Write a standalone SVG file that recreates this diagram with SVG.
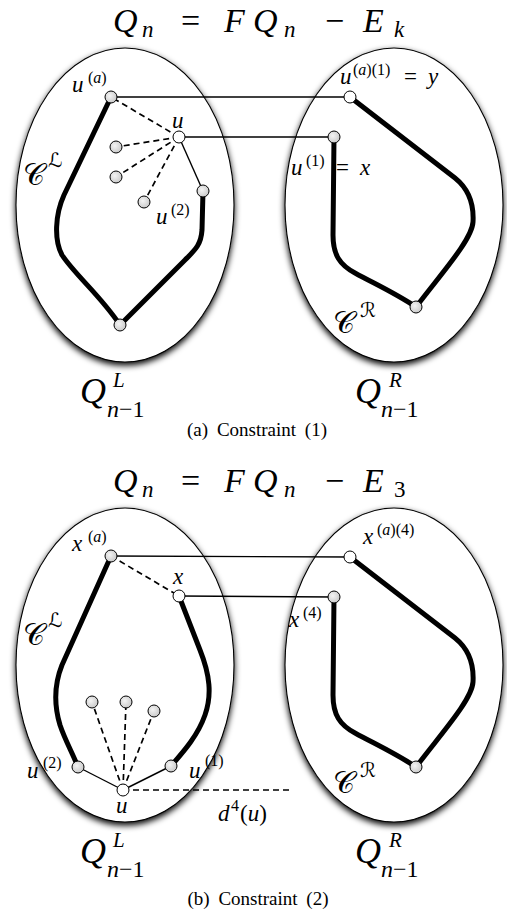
<svg xmlns="http://www.w3.org/2000/svg" width="507" height="914" viewBox="0 0 507 914">
<style>
.f{font-family:"Liberation Serif","DejaVu Serif","Noto Serif","FreeSerif",Tinos,"Times New Roman",serif;fill:#000}
.m{font-style:italic}
.t{font-size:34px}
.ts{font-size:23px}
.l{font-size:23px}
.s{font-size:16px}
.cal{font-family:"DejaVu Serif","DejaVu Sans","Noto Sans",serif;font-style:normal}
.cap{font-size:19px;word-spacing:4px}
.ell{fill:#fff;stroke:#000;stroke-width:1.1;filter:url(#sh)}
.thick{fill:none;stroke:#000;stroke-width:5;stroke-linecap:round;stroke-linejoin:round}
.thin{fill:none;stroke:#000;stroke-width:1.4}
.dash{fill:none;stroke:#000;stroke-width:1.7;stroke-dasharray:6 4}
.ng{fill:url(#gg);stroke:#000;stroke-width:1}
.nw{fill:#fff;stroke:#000;stroke-width:1}
</style>
<defs>
<filter id="sh" x="-20%" y="-20%" width="140%" height="140%">
<feGaussianBlur in="SourceAlpha" stdDeviation="3"/>
<feOffset dy="3"/>
<feComponentTransfer><feFuncA type="linear" slope="1"/></feComponentTransfer>
<feMerge><feMergeNode/><feMergeNode in="SourceGraphic"/></feMerge>
</filter>
<radialGradient id="gg" cx="0.4" cy="0.4" r="0.7">
<stop offset="0" stop-color="#f4f4f4"/>
<stop offset="1" stop-color="#c4c4c4"/>
</radialGradient>
</defs>

<!-- ===== Panel (a) ===== -->
<g id="titleA">
<text class="f t"><tspan class="m" x="113" y="32">Q</tspan><tspan class="m ts" x="142" y="37">n</tspan><tspan x="181" y="32">=</tspan><tspan class="m" x="224" y="32">F</tspan><tspan class="m" x="253" y="32">Q</tspan><tspan class="m ts" x="284" y="37">n</tspan><tspan x="325" y="32">−</tspan><tspan class="m" x="363" y="32">E</tspan><tspan class="m ts" x="394" y="37">k</tspan></text>
</g>
<g id="QL_a"><ellipse class="ell" cx="125" cy="205" rx="109" ry="157"/></g>
<g id="QR_a"><ellipse class="ell" cx="394" cy="205" rx="109" ry="157"/></g>

<g id="connectors_a">
<path class="thick" d="M111,97 L64,195 C55,215 54,240 62,255 C75,275 100,295 120,325"/>
<path class="thick" d="M203,191 L202,230 C201,245 195,250 185,260 L120,325"/>
<path class="thick" d="M350,97 L455,178 C470,190 474,205 473,222 C472,240 440,275 416,307"/>
<path class="thick" d="M334,137 L333,235 C333,255 340,265 355,273 C375,284 395,293 416,307"/>
<line class="thin" x1="111" y1="97" x2="350" y2="97"/>
<line class="thin" x1="179" y1="137" x2="334" y2="137"/>
<line class="thin" x1="179" y1="137" x2="203" y2="191"/>
<line class="dash" x1="179" y1="137" x2="111" y2="97"/>
<line class="dash" x1="179" y1="137" x2="116" y2="147"/>
<line class="dash" x1="179" y1="137" x2="116" y2="177"/>
<line class="dash" x1="179" y1="137" x2="144" y2="202"/>
</g>

<g id="ua_a"><circle class="ng" cx="111" cy="97" r="6"/><text class="f l"><tspan class="m" x="72" y="92">u</tspan><tspan class="s" x="88" y="83">(<tspan class="m">a</tspan>)</tspan></text></g>
<g id="u_a"><circle class="nw" cx="179" cy="137" r="6"/><text class="f l m" x="172" y="128">u</text></g>
<g id="n1_a"><circle class="ng" cx="116" cy="147" r="6"/></g>
<g id="n2_a"><circle class="ng" cx="116" cy="177" r="6"/></g>
<g id="n3_a"><circle class="ng" cx="144" cy="202" r="6"/></g>
<g id="u2_a"><circle class="ng" cx="203" cy="191" r="6"/><text class="f l"><tspan class="m" x="156" y="224">u</tspan><tspan class="s" x="171" y="215">(2)</tspan></text></g>
<g id="bot_a"><circle class="ng" cx="120" cy="325" r="6"/></g>
<g id="y_a"><circle class="nw" cx="350" cy="97" r="6"/><text class="f l"><tspan class="m" x="340" y="84">u</tspan><tspan class="s" x="353" y="75">(<tspan class="m">a</tspan>)(1)</tspan><tspan x="404" y="84">=</tspan><tspan class="m" x="428" y="84">y</tspan></text></g>
<g id="x_a"><circle class="ng" cx="334" cy="137" r="6"/><text class="f l"><tspan class="m" x="291" y="175">u</tspan><tspan class="s" x="306" y="166">(1)</tspan><tspan x="336" y="175">=</tspan><tspan class="m" x="360" y="175">x</tspan></text></g>
<g id="botR_a"><circle class="ng" cx="416" cy="307" r="6"/></g>
<g id="labels_a">
<text class="f"><tspan class="cal" x="23" y="185" font-size="30">𝒞</tspan><tspan class="cal" x="48" y="167" font-size="20">ℒ</tspan></text>
<text class="f"><tspan class="cal" x="333" y="333" font-size="30">𝒞</tspan><tspan class="cal" x="360" y="317" font-size="20">ℛ</tspan></text>
<text class="f"><tspan class="m" x="80" y="403" font-size="36">Q</tspan><tspan class="m" x="113" y="387" font-size="21">L</tspan><tspan x="107" y="417" font-size="24"><tspan class="m">n</tspan>−1</tspan></text>
<text class="f"><tspan class="m" x="355" y="403" font-size="36">Q</tspan><tspan class="m" x="389" y="387" font-size="21">R</tspan><tspan x="381" y="417" font-size="24"><tspan class="m">n</tspan>−1</tspan></text>
<text class="f cap" x="257" y="436" text-anchor="middle">(a) Constraint (1)</text>
</g>

<!-- ===== Panel (b) ===== -->
<g id="titleB">
<text class="f t"><tspan class="m" x="113" y="492">Q</tspan><tspan class="m ts" x="142" y="497">n</tspan><tspan x="181" y="492">=</tspan><tspan class="m" x="224" y="492">F</tspan><tspan class="m" x="253" y="492">Q</tspan><tspan class="m ts" x="284" y="497">n</tspan><tspan x="325" y="492">−</tspan><tspan class="m" x="363" y="492">E</tspan><tspan class="ts" x="394" y="497">3</tspan></text>
</g>
<g id="QL_b"><ellipse class="ell" cx="125" cy="665" rx="109" ry="157"/></g>
<g id="QR_b"><ellipse class="ell" cx="394" cy="665" rx="109" ry="157"/></g>

<g id="connectors_b">
<path class="thick" d="M111,556 L62,665 C54,685 54,705 60,725 C65,740 72,752 78,767"/>
<path class="thick" d="M179,596 L200,650 C210,675 212,695 205,715 C198,735 185,750 171,766"/>
<path class="thick" d="M350,557 L455,638 C470,650 474,665 473,682 C472,700 440,735 416,767"/>
<path class="thick" d="M334,597 L333,695 C333,715 340,725 355,733 C375,744 395,753 416,767"/>
<line class="thin" x1="111" y1="556" x2="350" y2="557"/>
<line class="thin" x1="179" y1="596" x2="334" y2="597"/>
<line class="dash" x1="111" y1="556" x2="179" y2="596"/>
<line class="thin" x1="123" y1="790" x2="78" y2="767"/>
<line class="thin" x1="123" y1="790" x2="171" y2="766"/>
<line class="dash" x1="123" y1="790" x2="92" y2="702"/>
<line class="dash" x1="123" y1="790" x2="126" y2="702"/>
<line class="dash" x1="123" y1="790" x2="154" y2="711"/>
<line class="dash" x1="123" y1="790" x2="290" y2="790"/>
</g>

<g id="xa_b"><circle class="ng" cx="111" cy="556" r="6"/><text class="f l"><tspan class="m" x="72" y="551">x</tspan><tspan class="s" x="88" y="542">(<tspan class="m">a</tspan>)</tspan></text></g>
<g id="x_b"><circle class="nw" cx="179" cy="596" r="6"/><text class="f l m" x="173" y="584">x</text></g>
<g id="xa4_b"><circle class="nw" cx="350" cy="557" r="6"/><text class="f l"><tspan class="m" x="363" y="544">x</tspan><tspan class="s" x="377" y="535">(<tspan class="m">a</tspan>)(4)</tspan></text></g>
<g id="x4_b"><circle class="ng" cx="334" cy="597" r="6"/><text class="f l"><tspan class="m" x="289" y="627">x</tspan><tspan class="s" x="303" y="618">(4)</tspan></text></g>
<g id="u2_b"><circle class="ng" cx="78" cy="767" r="6"/><text class="f l"><tspan class="m" x="27" y="778">u</tspan><tspan class="s" x="43" y="768">(2)</tspan></text></g>
<g id="u1_b"><circle class="ng" cx="171" cy="766" r="6"/><text class="f l"><tspan class="m" x="189" y="778">u</tspan><tspan class="s" x="205" y="766">(1)</tspan></text></g>
<g id="u_b"><circle class="nw" cx="123" cy="790" r="6"/><text class="f l m" x="116" y="813">u</text></g>
<g id="n1_b"><circle class="ng" cx="92" cy="702" r="6"/></g>
<g id="n2_b"><circle class="ng" cx="126" cy="702" r="6"/></g>
<g id="n3_b"><circle class="ng" cx="154" cy="711" r="6"/></g>
<g id="botR_b"><circle class="ng" cx="416" cy="767" r="6"/></g>
<g id="labels_b">
<text class="f l"><tspan class="m" x="218" y="821">d</tspan><tspan class="s" x="231" y="811">4</tspan><tspan x="240" y="821">(<tspan class="m">u</tspan>)</tspan></text>
<text class="f"><tspan class="cal" x="23" y="645" font-size="30">𝒞</tspan><tspan class="cal" x="48" y="627" font-size="20">ℒ</tspan></text>
<text class="f"><tspan class="cal" x="333" y="793" font-size="30">𝒞</tspan><tspan class="cal" x="360" y="777" font-size="20">ℛ</tspan></text>
<text class="f"><tspan class="m" x="80" y="863" font-size="36">Q</tspan><tspan class="m" x="113" y="847" font-size="21">L</tspan><tspan x="107" y="877" font-size="24"><tspan class="m">n</tspan>−1</tspan></text>
<text class="f"><tspan class="m" x="355" y="863" font-size="36">Q</tspan><tspan class="m" x="389" y="847" font-size="21">R</tspan><tspan x="381" y="877" font-size="24"><tspan class="m">n</tspan>−1</tspan></text>
<text class="f cap" x="258" y="905" text-anchor="middle">(b) Constraint (2)</text>
</g>
</svg>
